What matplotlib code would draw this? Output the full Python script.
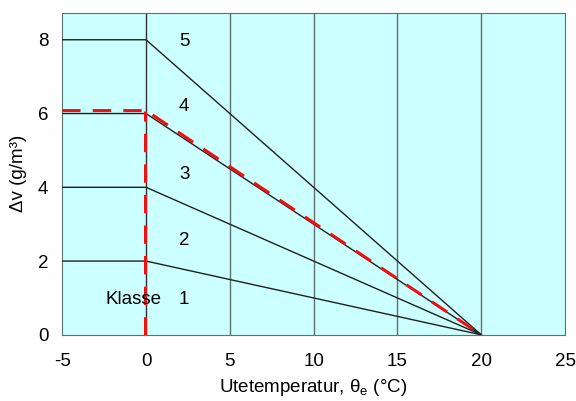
import matplotlib
matplotlib.use('Agg')
import matplotlib.pyplot as plt
import numpy as np

plt.rcParams['font.family'] = ['Liberation Sans', 'DejaVu Sans']
plt.rcParams['axes.unicode_minus'] = False
plt.rcParams['mathtext.default'] = 'regular'

# klass -> fuktillskott vid -5..0 C, faller linjärt till 0 vid 20 C
dv_max = [2, 4, 6, 8]
klass_labels = ['1', '2', '3', '4', '5']
label_y = [0.95, 2.57, 4.34, 6.18, 7.94]
t_knee = 0
t_zero = 20
t_min = -5
red_dv = 6.08

fig = plt.figure(figsize=(5.76, 4.01), dpi=100)
ax = fig.add_axes([0.108, 0.165, 0.873, 0.803])
ax.set_facecolor('#ccffff')

for x in [5, 10, 15, 20]:
    ax.axvline(x, color='#5f7070', lw=1.0, zorder=1)
ax.plot([t_knee, t_knee], [0, 8.73], color='#303030', lw=1.0, zorder=2)

for v in dv_max:
    ax.plot([t_min, t_knee, t_zero], [v, v, 0], color='#202020', lw=1.0, zorder=3)

ax.plot([t_min, t_knee, t_zero], [red_dv, red_dv, 0], color='#ee1111', lw=2.2,
        dashes=(6, 4), zorder=4)
ax.plot([-0.07, -0.07], [0, red_dv], color='#ee1111', lw=2.2, dashes=(6, 4), zorder=4)

for lab, y in zip(klass_labels, label_y):
    ax.text(2.28, y, lab, fontsize=13.5, ha='center', va='center', zorder=5)
ax.text(-0.75, label_y[0], 'Klasse', fontsize=13.5, ha='center', va='center', zorder=5)

ax.set_xlim(-5, 25)
ax.set_ylim(0, 8.73)
ax.set_xticks([-5, 0, 5, 10, 15, 20, 25])
ax.set_yticks([0, 2, 4, 6, 8])
ax.tick_params(axis='x', length=0, labelsize=13.5, pad=13)
ax.tick_params(axis='y', length=0, labelsize=13.5, pad=10)
for s in ax.spines.values():
    s.set_color('#5f7070')
ax.set_xlabel(r'Utetemperatur, $\theta_e$ (°C)', fontsize=13.5, labelpad=5)
ax.set_ylabel('Δv (g/m³)', fontsize=13.5, labelpad=8)

fig.savefig('out.png', dpi=100)
